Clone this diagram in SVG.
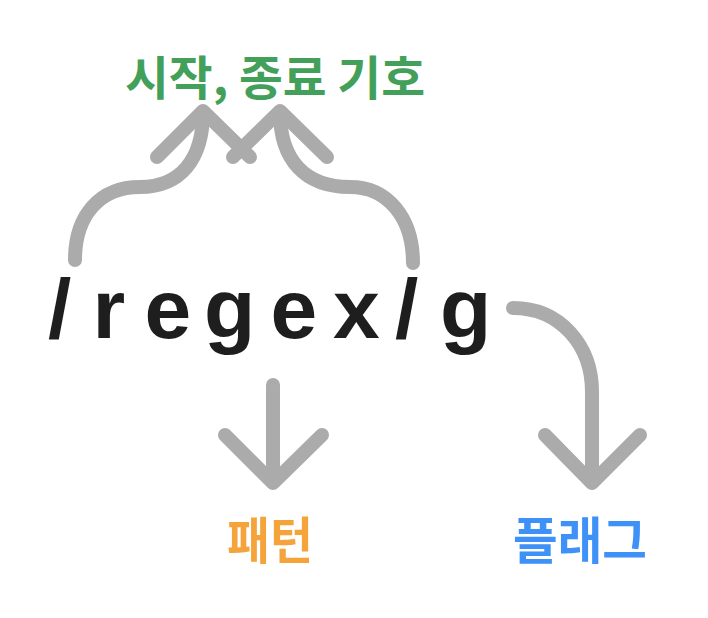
<svg xmlns="http://www.w3.org/2000/svg" width="708" height="618" viewBox="0 0 708 618">
<style>
.conn{fill:none;stroke:#ababab;stroke-width:14;stroke-linecap:round;stroke-linejoin:round}
.kr{font-family:"Noto Sans CJK KR","Noto Sans",sans-serif;font-weight:700;text-anchor:middle}
.re{font-family:"Liberation Sans",Arial,sans-serif;font-weight:700;font-size:84px;fill:#1e1e1e}
</style>
<rect width="708" height="618" fill="#ffffff"/>
<g id="connectors">
<path class="conn" d="M75,260 C75,215 100,187 140,187 C180,187 203,160 203,112"/>
<path class="conn" d="M157,157 L203,111 L250,157"/>
<path class="conn" d="M413,263 C413,218 388,187 350,187 C305,187 280,160 280,112"/>
<path class="conn" d="M233,157 L280,111 L327,157"/>
<path class="conn" d="M273,385 L273,482"/>
<path class="conn" d="M225,435 L273,483 L322,435"/>
<path class="conn" d="M513,308 C560,308 592,345 592,392 L592,482"/>
<path class="conn" d="M545,435 L592,483 L640,435"/>
</g>
<g id="title">
<text class="kr" x="275" y="95" font-size="47" fill="#43a05a" textLength="300" lengthAdjust="spacingAndGlyphs">시작, 종료 기호</text>
</g>
<g id="regex">
<text class="re" x="48 92.5 144.5 204 270.5 333 395 440" y="338">/regex/g</text>
</g>
<g id="pattern">
<text class="kr" x="270" y="559" font-size="50" fill="#f5a33b" textLength="86" lengthAdjust="spacingAndGlyphs">패턴</text>
</g>
<g id="flag">
<text class="kr" x="580" y="559" font-size="50" fill="#3d91f7" textLength="134" lengthAdjust="spacingAndGlyphs">플래그</text>
</g>
</svg>
